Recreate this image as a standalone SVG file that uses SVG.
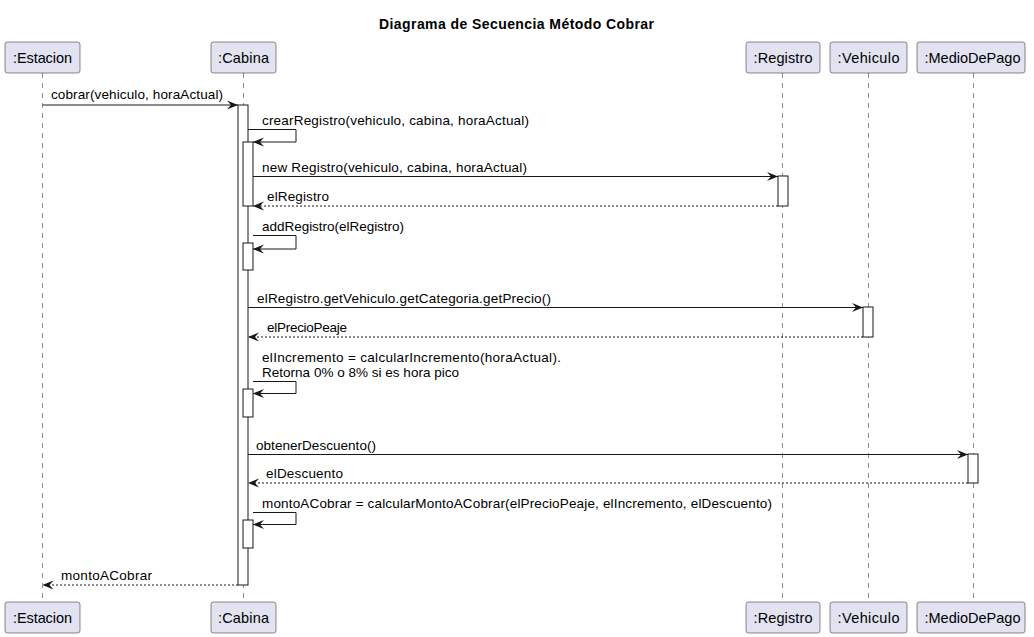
<svg xmlns="http://www.w3.org/2000/svg" width="1034" height="637" viewBox="0 0 1034 637">
<style>
.box{fill:#E2E2F0;stroke:#181818;stroke-width:0.5}
.pt{font-family:"Liberation Sans",Arial,sans-serif;font-size:14.5px;fill:#000;text-anchor:middle}
.life{stroke:#181818;stroke-width:0.5;stroke-dasharray:5,5;fill:none}
.act{fill:#FFFFFF;stroke:#181818;stroke-width:1}
.msg{stroke:#181818;stroke-width:1;fill:none}
.ret{stroke:#181818;stroke-width:1;stroke-dasharray:2,2;fill:none}
.lbl{font-family:"Liberation Sans",Arial,sans-serif;font-size:13.5px;fill:#000}
.title{font-family:"Liberation Sans",Arial,sans-serif;font-size:14px;font-weight:bold;fill:#000}
</style>
<defs>
<marker id="ah" viewBox="0 0 11 10" refX="11" refY="5" markerWidth="11" markerHeight="10" markerUnits="userSpaceOnUse" orient="auto">
<path d="M0,0.5 L11,5 L0,9.5 L4,5 Z" fill="#181818"/>
</marker>
</defs>
<rect width="1034" height="637" fill="#FFFFFF"/>
<text class="title" x="379" y="29" textLength="275">Diagrama de Secuencia Método Cobrar</text>

<g id="lifelines">
<line class="life" x1="42.5" y1="73" x2="42.5" y2="602"/>
<line class="life" x1="243.5" y1="73" x2="243.5" y2="602"/>
<line class="life" x1="782.5" y1="73" x2="782.5" y2="602"/>
<line class="life" x1="868.5" y1="73" x2="868.5" y2="602"/>
<line class="life" x1="973.5" y1="73" x2="973.5" y2="602"/>
</g>

<g id="estacion">
<rect class="box" x="5" y="42" width="75" height="31" rx="2.5"/>
<text class="pt" x="42.5" y="63" textLength="59">:Estacion</text>
<rect class="box" x="5" y="602" width="75" height="31" rx="2.5"/>
<text class="pt" x="42.5" y="623" textLength="59">:Estacion</text>
</g>
<g id="cabina">
<rect class="box" x="211" y="42" width="65" height="31" rx="2.5"/>
<text class="pt" x="243.5" y="63" textLength="51">:Cabina</text>
<rect class="box" x="211" y="602" width="65" height="31" rx="2.5"/>
<text class="pt" x="243.5" y="623" textLength="51">:Cabina</text>
</g>
<g id="registro">
<rect class="box" x="746" y="42" width="74" height="31" rx="2.5"/>
<text class="pt" x="783" y="63" textLength="59">:Registro</text>
<rect class="box" x="746" y="602" width="74" height="31" rx="2.5"/>
<text class="pt" x="783" y="623" textLength="59">:Registro</text>
</g>
<g id="vehiculo">
<rect class="box" x="830" y="42" width="77" height="31" rx="2.5"/>
<text class="pt" x="868.5" y="63" textLength="62">:Vehiculo</text>
<rect class="box" x="830" y="602" width="77" height="31" rx="2.5"/>
<text class="pt" x="868.5" y="623" textLength="62">:Vehiculo</text>
</g>
<g id="mediodepago">
<rect class="box" x="917" y="42" width="108" height="31" rx="2.5"/>
<text class="pt" x="972.5" y="63" textLength="96">:MedioDePago</text>
<rect class="box" x="917" y="602" width="108" height="31" rx="2.5"/>
<text class="pt" x="972.5" y="623" textLength="96">:MedioDePago</text>
</g>

<g id="activations">
<rect class="act" x="238" y="105" width="10" height="480"/>
<rect class="act" x="243" y="142" width="10" height="64"/>
<rect class="act" x="778" y="176" width="10" height="30"/>
<rect class="act" x="243" y="243" width="10" height="27"/>
<rect class="act" x="863" y="307" width="10" height="30"/>
<rect class="act" x="243" y="389" width="10" height="28"/>
<rect class="act" x="968" y="454" width="10" height="29"/>
<rect class="act" x="243" y="520" width="10" height="28"/>
</g>

<g id="connectors">
<line class="msg" x1="42.5" y1="105" x2="238" y2="105" marker-end="url(#ah)"/>
<text class="lbl" x="51" y="99" textLength="172">cobrar(vehiculo, horaActual)</text>

<polyline class="msg" points="248,129.5 296,129.5 296,142 253,142" marker-end="url(#ah)"/>
<text class="lbl" x="262" y="124.5" textLength="267">crearRegistro(vehiculo, cabina, horaActual)</text>

<line class="msg" x1="253" y1="176.5" x2="778" y2="176.5" marker-end="url(#ah)"/>
<text class="lbl" x="262" y="171.5" textLength="265">new Registro(vehiculo, cabina, horaActual)</text>

<line class="ret" x1="778" y1="206" x2="253" y2="206" marker-end="url(#ah)"/>
<text class="lbl" x="267" y="201" textLength="62">elRegistro</text>

<polyline class="msg" points="253,235.5 296,235.5 296,249 253,249" marker-end="url(#ah)"/>
<text class="lbl" x="262" y="230.5" textLength="142">addRegistro(elRegistro)</text>

<line class="msg" x1="248" y1="307.5" x2="863" y2="307.5" marker-end="url(#ah)"/>
<text class="lbl" x="257" y="302.5" textLength="294">elRegistro.getVehiculo.getCategoria.getPrecio()</text>

<line class="ret" x1="863" y1="337" x2="248" y2="337" marker-end="url(#ah)"/>
<text class="lbl" x="267" y="332" textLength="80">elPrecioPeaje</text>

<polyline class="msg" points="253,381.5 296,381.5 296,393.5 253,393.5" marker-end="url(#ah)"/>
<text class="lbl" x="262" y="361.5" textLength="299">elIncremento = calcularIncremento(horaActual).</text>
<text class="lbl" x="262" y="376.5" textLength="197">Retorna 0% o 8% si es hora pico</text>

<line class="msg" x1="248" y1="454.5" x2="968" y2="454.5" marker-end="url(#ah)"/>
<text class="lbl" x="256" y="449.5" textLength="120">obtenerDescuento()</text>

<line class="ret" x1="968" y1="483" x2="248" y2="483" marker-end="url(#ah)"/>
<text class="lbl" x="266" y="478" textLength="77">elDescuento</text>

<polyline class="msg" points="253,512.5 296,512.5 296,524.5 253,524.5" marker-end="url(#ah)"/>
<text class="lbl" x="262" y="507.5" textLength="510">montoACobrar = calcularMontoACobrar(elPrecioPeaje, elIncremento, elDescuento)</text>

<line class="ret" x1="238" y1="585" x2="42.5" y2="585" marker-end="url(#ah)"/>
<text class="lbl" x="61" y="580" textLength="91">montoACobrar</text>
</g>
</svg>
